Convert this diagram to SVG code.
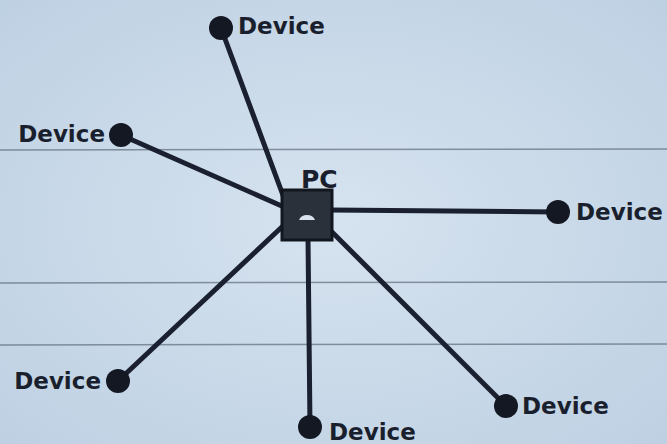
<svg xmlns="http://www.w3.org/2000/svg" width="667" height="444" viewBox="0 0 667 444">
  <style>
    .link { stroke: #1b2030; stroke-width: 5; stroke-linecap: round; fill: none; }
    .dot { fill: #141822; }
    .label { font-family: "DejaVu Sans", Verdana, sans-serif; font-weight: bold; font-size: 23px; fill: #1a1f2e; }
    .rule { stroke: #5f6c7c; stroke-width: 1.5; opacity: 0.7; }
  </style>
  <defs>
    <radialGradient id="paper" cx="0.5" cy="0.5" r="0.75">
      <stop offset="0" stop-color="#d6e3f0"/>
      <stop offset="1" stop-color="#bccfe1"/>
    </radialGradient>
  </defs>

  <!-- paper -->
  <rect width="667" height="444" fill="url(#paper)"/>
  <g id="rules">
    <line class="rule" x1="0" y1="150" x2="667" y2="149"/>
    <line class="rule" x1="0" y1="283" x2="667" y2="282"/>
    <line class="rule" x1="0" y1="345" x2="667" y2="344"/>
  </g>

  <!-- connectors -->
  <g id="connectors">
    <line class="link" x1="221" y1="28" x2="284" y2="198"/>
    <line class="link" x1="121" y1="135" x2="284" y2="207"/>
    <line class="link" x1="330" y1="210" x2="558" y2="212"/>
    <line class="link" x1="118" y1="381" x2="284" y2="225"/>
    <line class="link" x1="308" y1="238" x2="310" y2="427"/>
    <line class="link" x1="330" y1="230" x2="506" y2="406"/>
  </g>

  <!-- hub -->
  <g id="pc">
    <rect x="282" y="190" width="50" height="50" fill="#2b313b" stroke="#12161e" stroke-width="3"/>
    <path d="M299 220 Q301 215 307 215 Q313 215 315 220 Z" fill="#d8e2ee"/>
    <text class="label" x="301" y="188" style="font-size:25px">PC</text>
  </g>

  <!-- devices -->
  <g id="device-top">
    <circle class="dot" cx="221" cy="28" r="12"/>
    <text class="label" x="238" y="34">Device</text>
  </g>
  <g id="device-left">
    <circle class="dot" cx="121" cy="135" r="12"/>
    <text class="label" x="105" y="142" text-anchor="end">Device</text>
  </g>
  <g id="device-right">
    <circle class="dot" cx="558" cy="212" r="12"/>
    <text class="label" x="576" y="220">Device</text>
  </g>
  <g id="device-lower-left">
    <circle class="dot" cx="118" cy="381" r="12"/>
    <text class="label" x="101" y="389" text-anchor="end">Device</text>
  </g>
  <g id="device-bottom">
    <circle class="dot" cx="310" cy="427" r="12"/>
    <text class="label" x="329" y="440">Device</text>
  </g>
  <g id="device-lower-right">
    <circle class="dot" cx="506" cy="406" r="12"/>
    <text class="label" x="522" y="414">Device</text>
  </g>
</svg>
